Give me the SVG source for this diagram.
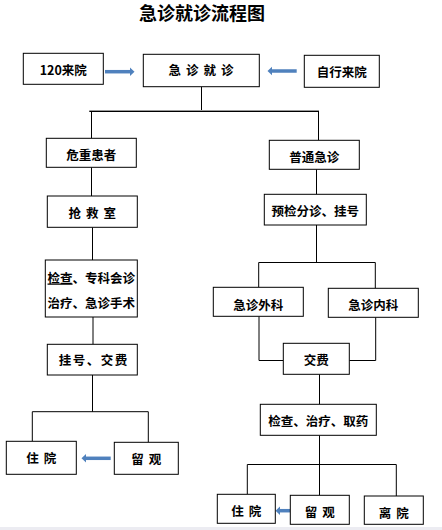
<svg xmlns="http://www.w3.org/2000/svg" width="442" height="530" viewBox="0 0 442 530">
<style>
.box{fill:#fff;stroke:#000;stroke-width:1}
.t{font-family:"Noto Sans CJK SC","Liberation Sans",sans-serif;font-weight:bold;font-size:12.5px;fill:#000;text-anchor:middle}
.ln{fill:none;stroke:#000;stroke-width:1}
.arr{stroke:#4f81bd;stroke-width:3.5;fill:none}
.ah{fill:#4f81bd}
</style>
<rect x="0" y="0" width="442" height="530" fill="#fff"/>
<rect x="0" y="527" width="442" height="3" fill="#ececf2"/>
<text x="202" y="20" font-family="'Noto Sans CJK SC','Liberation Sans',sans-serif" font-weight="bold" font-size="18" text-anchor="middle" fill="#000">急诊就诊流程图</text>
<g id="connectors">
<path class="ln" d="M201.5,86.7V111.3"/>
<path d="M89.3,110.5H319" stroke="#999" stroke-width="1"/>
<path class="ln" d="M89.3,111.5H319"/>
<path class="ln" d="M91.5,111.5V138.3M318.5,111.5V140.3"/>
<path class="ln" d="M91.5,167.3V196M316.5,169.3V194.3"/>
<path class="ln" d="M92.5,227.3V260M316.5,225V262.5M258.7,262.5H375.3M258.7,262.5V287.3M375.3,262.5V288.3"/>
<path class="ln" d="M93,317V344.3M259,316.3V360.5H283.3M375.7,317.3V360.5H349.3"/>
<path class="ln" d="M92.5,375V411.7M32.3,441.3V411.7H148.3V442.3"/>
<path class="ln" d="M319.5,374.3V404.3M319.5,435.3V495.3M247.3,494.3V464.5H396.3V496"/>
<path class="arr" d="M105,71.7H130"/><path class="ah" d="M130,67.5L134.5,71.7L130,76Z"/>
<path class="arr" d="M296.7,71H272"/><path class="ah" d="M272,66.8L267.5,71L272,75.2Z"/>
<path class="arr" d="M110.7,458.3H86"/><path class="ah" d="M86,454.1L81.5,458.3L86,462.5Z"/>
<path class="arr" d="M290,510.7H280"/><path class="ah" d="M280,506.5L275.5,510.7L280,514.9Z"/>
</g>
<g id="n120"><rect class="box" x="23.3" y="53.3" width="80" height="31"/><text class="t" x="63.3" y="75">120来院</text></g>
<g id="njz"><rect class="box" x="143.3" y="54.3" width="116" height="32.4"/><text class="t" x="203.5" y="74.5" letter-spacing="5">急诊就诊</text></g>
<g id="nzx"><rect class="box" x="304.3" y="55.3" width="75" height="32"/><text class="t" x="341.8" y="76.5">自行来院</text></g>
<g id="nwz"><rect class="box" x="46.3" y="138.3" width="90" height="29"/><text class="t" x="91.3" y="160">危重患者</text></g>
<g id="npt"><rect class="box" x="269.3" y="140.3" width="90" height="29"/><text class="t" x="314.3" y="162">普通急诊</text></g>
<g id="nqjs"><rect class="box" x="47.3" y="196" width="90" height="31.3"/><text class="t" x="94.8" y="217.5" letter-spacing="5">抢救室</text></g>
<g id="nyj"><rect class="box" x="264.3" y="194.3" width="102" height="30.7"/><text class="t" x="315.3" y="215.5">预检分诊、挂号</text></g>
<g id="njc"><rect class="box" x="45.3" y="260" width="92" height="57"/><text class="t" x="91.3" y="282.5" font-size="12"><tspan text-decoration="underline">检查</tspan>、专科会诊</text><text class="t" x="91.3" y="308" font-size="12">治疗、急诊手术</text></g>
<g id="nwk"><rect class="box" x="213.3" y="287.3" width="90" height="29"/><text class="t" x="258.3" y="309.5">急诊外科</text></g>
<g id="nnk"><rect class="box" x="328.3" y="288.3" width="90" height="29"/><text class="t" x="373.3" y="310">急诊内科</text></g>
<g id="ngh"><rect class="box" x="47.3" y="344.3" width="90" height="30.7"/><text class="t" x="93.8" y="364.5" letter-spacing="1.5">挂号、交费</text></g>
<g id="njf"><rect class="box" x="283.3" y="343.3" width="66" height="31"/><text class="t" x="316.3" y="364.5">交费</text></g>
<g id="njcz"><rect class="box" x="260.3" y="404.3" width="116" height="31"/><text class="t" x="318.3" y="426">检查、治疗、取药</text></g>
<g id="nzy1"><rect class="box" x="6.3" y="441.3" width="70" height="33"/><text class="t" x="43.8" y="462.7" letter-spacing="5">住院</text></g>
<g id="nlg1"><rect class="box" x="114.3" y="442.3" width="64" height="32"/><text class="t" x="148.8" y="463.5" letter-spacing="5">留观</text></g>
<g id="nzy2"><rect class="box" x="217.3" y="494.3" width="58" height="29"/><text class="t" x="248.8" y="516" letter-spacing="5">住院</text></g>
<g id="nlg2"><rect class="box" x="290.3" y="495.3" width="59" height="29"/><text class="t" x="322.3" y="516.5" letter-spacing="5">留观</text></g>
<g id="nly"><rect class="box" x="364.3" y="496" width="59" height="28.3"/><text class="t" x="396.3" y="517.5" letter-spacing="5">离院</text></g>
</svg>
